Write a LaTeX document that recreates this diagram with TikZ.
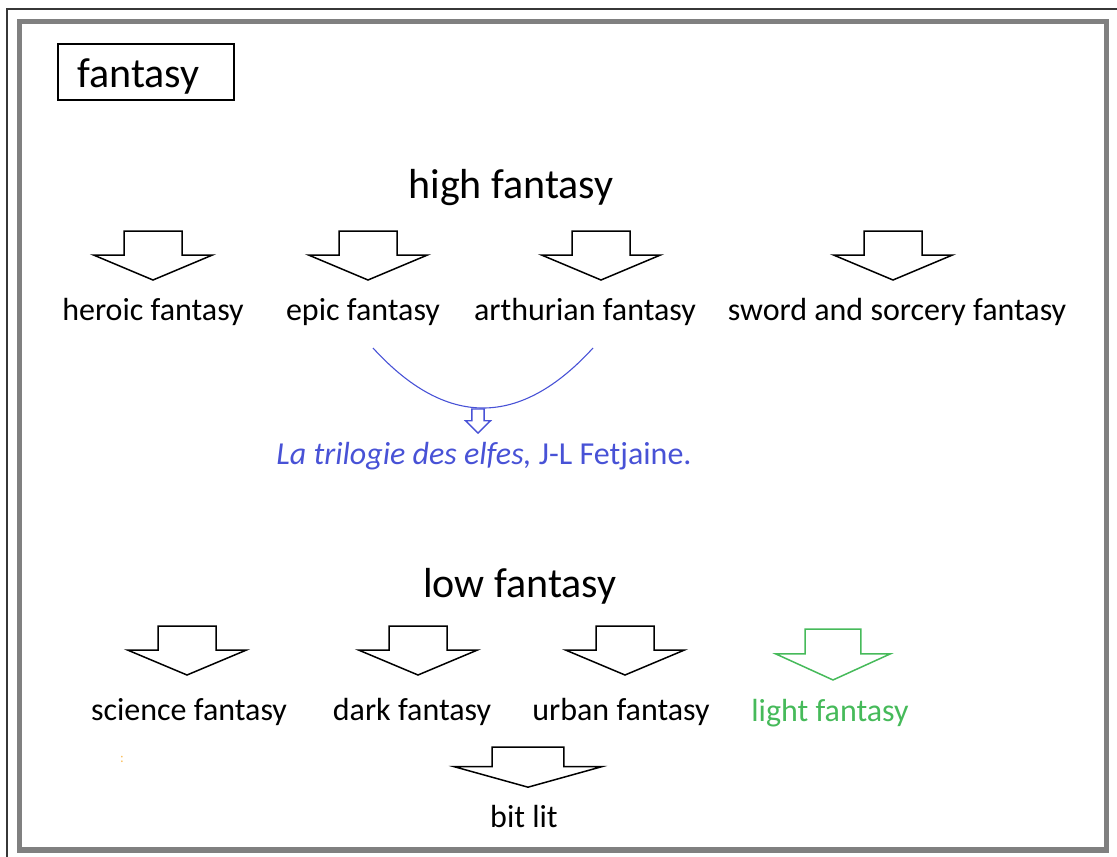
\documentclass[tikz,border=0pt]{standalone}
\usepackage{fontspec}
\setmainfont{Carlito}
\usetikzlibrary{positioning}

\definecolor{framegrey}{RGB}{128,128,128}
\definecolor{edgedark}{RGB}{55,55,55}
\definecolor{noteblue}{RGB}{72,82,214}
\definecolor{lightgreen}{RGB}{70,186,90}
\definecolor{dotorange}{RGB}{250,190,90}

\begin{document}
\begin{tikzpicture}[
    x=1pt, y=-1pt,
    label/.style={anchor=base, inner sep=0pt, font=\fontsize{32}{38}\selectfont},
    heading/.style={anchor=base, inner sep=0pt, font=\fontsize{42}{50}\selectfont},
    pics/downarr/.style={code={
      \draw[pic actions] (-29,0) -- (29,0) -- (29,24) -- (59.5,24) -- (0,49)
        -- (-59.5,24) -- (-29,24) -- cycle;}},
    arr/.style={line width=1.5pt, line join=miter}
  ]
    \useasboundingbox (0,0) rectangle (1117,857);
    % frames
    \draw[edgedark, line width=2pt] (7,9) rectangle (1140,880);
    \draw[framegrey, line width=5.5pt] (19.5,21.5) rectangle (1106.5,850);
    \node[draw, line width=1.3pt, minimum width=176pt, minimum height=56pt, inner sep=0pt]
      (genre) at (146,72) {};
    \node[heading] (genretxt) at (138.5,87) {fantasy};

    % high fantasy
    \node[heading] (high) at (511,198) {high fantasy};
    \pic[arr] at (153,231) {downarr};
    \pic[arr] at (368,231) {downarr};
    \pic[arr] at (601,231) {downarr};
    \pic[arr] at (893,231) {downarr};
    \node[label] (heroic) at (153,320) {heroic fantasy};
    \node[label] (epic) at (363,320) {epic fantasy};
    \node[label] (arthur) at (585,320) {arthurian fantasy};
    \node[label] (sword) at (897,320) {sword and sorcery fantasy};

    % the trilogy
    \coordinate (bendl) at (373,348);
    \coordinate (bendr) at (593,348);
    \draw[noteblue, line width=1.1pt] (bendl) .. controls (446,428) and (520,428) .. (bendr);
    \pic[noteblue, line width=1.4pt, xscale=0.21, yscale=0.49] at (478,409) {downarr};
    \node[label, text=noteblue] (elfes) at (484,464) {\textit{La trilogie des elfes,} J-L Fetjaine.};

    % low fantasy
    \node[heading] (low) at (520,597) {low fantasy};
    \pic[arr] at (187,626) {downarr};
    \pic[arr] at (418,626) {downarr};
    \pic[arr] at (625,626) {downarr};
    \pic[arr, lightgreen, xscale=0.96, yscale=1.04] at (833,629) {downarr};
    \node[label] (science) at (189,720) {science fantasy};
    \node[label] (dark) at (412,720) {dark fantasy};
    \node[label] (urban) at (621,720) {urban fantasy};
    \node[label, text=lightgreen] (light) at (830,721) {light fantasy};
    \node[anchor=base, inner sep=0pt, text=dotorange, font=\fontsize{14}{16}\selectfont]
      (stray) at (122,762) {:};
    \pic[arr, xscale=1.24, yscale=0.82] at (528,747) {downarr};
    \node[label] (bitlit) at (524,827) {bit lit};
  \end{tikzpicture}
\end{document}
